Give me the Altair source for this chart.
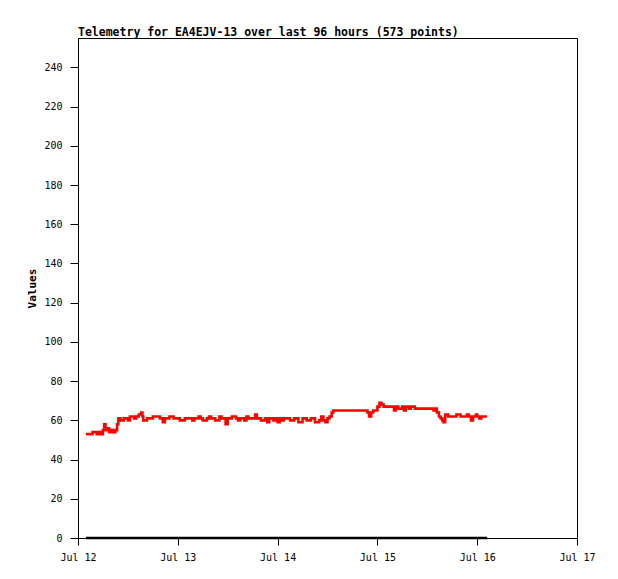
import altair as alt
import pandas as pd

# hours since Jul 12 00:00 and telemetry values
hours = [1.9, 3.0, 3.5, 4.5, 5.0, 5.6, 6.0, 6.3, 6.6, 7.0, 7.5, 8.0, 8.5, 9.0, 9.4, 9.7,
         10.2, 11.0, 12.0, 12.5, 13.5, 14.0, 14.6, 15.2, 15.5, 15.7, 16.6, 18.0, 19.7,
         20.4, 20.9, 22.0, 23.0, 24.5, 25.7,
         26.0, 27.0, 27.5, 28.0, 29.0, 29.5, 30.0, 31.0, 31.5, 32.0, 33.0, 34.0, 34.5,
         35.0, 35.5, 36.0, 37.0, 38.0, 38.5, 39.0, 40.0, 40.5, 41.0, 42.0, 42.6, 43.0,
         44.0, 45.0, 45.5, 46.0, 47.0, 47.5, 48.0, 48.5, 49.0, 49.5,
         50.0, 51.0, 52.0, 53.0, 54.0, 55.0, 56.0, 57.0, 58.0, 58.5, 59.0, 59.5, 60.0,
         60.5, 61.0, 61.4, 62.0, 63.0, 64.0, 65.0, 66.0, 67.0, 68.0, 69.0, 69.6, 70.0,
         70.5, 71.0, 71.5, 72.0, 72.5, 73.0, 73.5,
         74.0, 75.0, 76.0, 76.4, 77.0, 78.0, 78.4, 78.8, 79.5, 80.0, 81.0, 82.0, 83.0,
         84.0, 85.0, 85.5, 86.0, 86.3, 86.8, 87.2, 87.6, 87.9, 88.3, 89.0, 90.0, 91.0,
         92.0, 93.0, 93.5, 94.0, 94.5, 95.0, 95.7, 96.0, 96.5, 97.0, 98.4]
values = [53, 53, 54, 53, 54, 53, 55, 58, 55, 56, 54, 55, 54, 55, 58, 61,
          60, 61, 60, 62, 61, 62, 63, 64, 62, 60, 61, 62, 61,
          59, 61, 62, 61, 60, 61,
          61, 61, 60, 61, 62, 61, 60, 61, 62, 61, 60, 62, 61,
          61, 58, 61, 62, 61, 60, 61, 60, 62, 61, 61, 63, 61,
          60, 61, 59, 61, 60, 61, 59, 61, 60, 61,
          61, 60, 61, 59, 61, 60, 61, 59, 60, 62, 60, 59, 61,
          62, 64, 65, 65, 65, 65, 65, 65, 65, 65, 65, 64, 62,
          64, 65, 65, 67, 69, 68, 67,
          67, 67, 65, 67, 66, 67, 65, 67, 66, 67, 66, 66, 66,
          66, 66, 65, 66, 64, 62, 61, 60, 59, 63, 62, 62, 63,
          62, 62, 63, 62, 60, 62, 63, 62, 61, 62, 62]

zero_hours = [1.9, 98.4]
zero_values = [0, 0]

day_ticks = [0, 24, 48, 72, 96, 120]
day_labels = ["Jul 12", "Jul 13", "Jul 14", "Jul 15", "Jul 16", "Jul 17"]
y_ticks = [0, 20, 40, 60, 80, 100, 120, 140, 160, 180, 200, 220, 240]

df = pd.DataFrame({"h": hours, "v": values})
dz = pd.DataFrame({"h": zero_hours, "v": zero_values})

label_expr = "[" + ",".join("'%s'" % s for s in day_labels) + "][round(datum.value/24)]"

FONT = "DejaVu Sans Mono"
common = dict(grid=False, domainColor="black", tickColor="black", labelColor="black",
              titleColor="black", labelFont=FONT, titleFont=FONT, labelFontSize=10,
              domainWidth=1, tickWidth=1, labelFlush=False)

x_enc = alt.X("h:Q", scale=alt.Scale(domain=[0, 120], nice=False),
              axis=alt.Axis(values=day_ticks, labelExpr=label_expr, title=None,
                            tickSize=7, labelPadding=7, **common))
y_enc = alt.Y("v:Q", scale=alt.Scale(domain=[0, 255], nice=False),
              axis=alt.Axis(values=y_ticks, title="Values", tickSize=8, labelPadding=8,
                            titleX=-46, titleY=250, titleBaseline="middle",
                            titleAlign="center", titleFontSize=11,
                            titleFontWeight="bold", **common))

red = alt.Chart(df).mark_line(color="#ff0000", strokeWidth=2.6,
                              interpolate="step-after", clip=True).encode(x=x_enc, y=y_enc)
zero = alt.Chart(dz).mark_line(color="#000000", strokeWidth=2.6).encode(x=x_enc, y=y_enc)

chart = alt.layer(zero, red).properties(
    width=499, height=500,
    autosize="none",
    padding={"left": 70, "top": 30, "right": 20, "bottom": 30},
    title=alt.TitleParams(
        text="Telemetry for EA4EJV-13 over last 96 hours (573 points)",
        anchor="start", frame="group", font=FONT,
        fontSize=11.5, fontWeight="bold", color="black",
        baseline="alphabetic", offset=3, dy=12),
).configure(background="white").configure_view(stroke="black", strokeWidth=1)

chart.save("out.html", embed_options={"renderer": "svg", "actions": False})
